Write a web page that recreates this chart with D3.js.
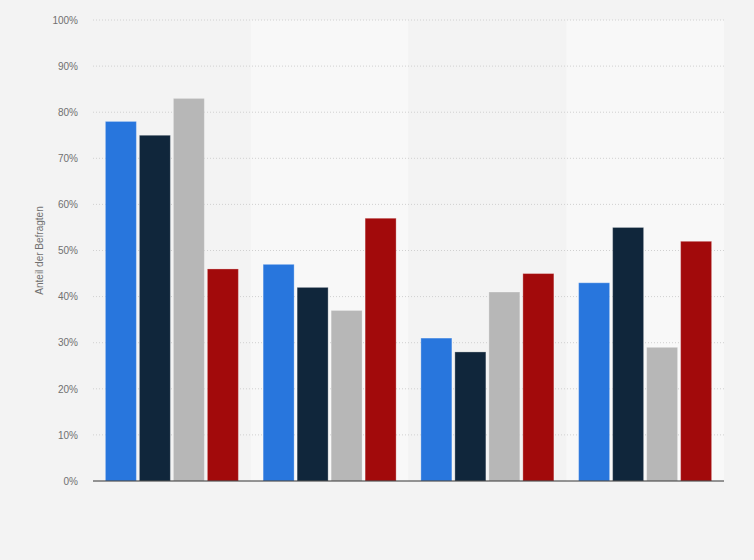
<!DOCTYPE html>
<html>
<head>
<meta charset="utf-8">
<script src="https://cdn.jsdelivr.net/npm/d3@7"></script>
<style>
  html, body { margin: 0; padding: 0; background: #f3f3f3; }
  svg { display: block; font-family: "Liberation Sans", Arial, sans-serif; }
</style>
</head>
<body>
<div id="chart"></div>
<script>
// groups have no visible labels in the reference
const categories = ["Gruppe 1", "Gruppe 2", "Gruppe 3", "Gruppe 4"];
const seriesNames = ["Reihe A", "Reihe B", "Reihe C", "Reihe D"];
const seriesColors = ["#2876dd", "#10263b", "#b7b7b7", "#a20a0b"];
// values per series, one entry per group (percent)
const seriesA = [78, 47, 31, 43];
const seriesB = [75, 42, 28, 55];
const seriesC = [83, 37, 41, 29];
const seriesD = [46, 57, 45, 52];
const yTicks = [0, 10, 20, 30, 40, 50, 60, 70, 80, 90, 100];

(() => {
  const W = 754, H = 560;
  const margin = { top: 20, left: 93, right: 30, bottom: 79 };
  const width = W - margin.left - margin.right,
        height = H - margin.top - margin.bottom;

  const allSeries = [seriesA, seriesB, seriesC, seriesD];
  const data = categories.map((c, i) => ({
    cat: c,
    vals: seriesNames.map((s, j) => ({ key: s, value: allSeries[j][i], color: seriesColors[j] }))
  }));

  const svg = d3.select("#chart").append("svg")
    .attr("width", W).attr("height", H);

  const g = svg.append("g")
    .attr("transform", `translate(${margin.left},${margin.top})`);

  const x0 = d3.scaleBand().domain(categories).range([0, width]);
  const x1 = d3.scaleBand().domain(seriesNames).range([0, x0.bandwidth()])
    .paddingInner(0.088).paddingOuter(0.364);
  const y = d3.scaleLinear().domain([0, 100]).range([height, 0]);

  // alternating column bands
  g.selectAll(".band")
    .data(categories)
    .enter().append("rect")
    .attr("x", d => x0(d))
    .attr("y", 0)
    .attr("width", x0.bandwidth())
    .attr("height", height)
    .attr("fill", (d, i) => i % 2 ? "#f8f8f8" : "#f3f3f3");

  // gridlines
  g.selectAll(".grid")
    .data(yTicks.filter(t => t > 0))
    .enter().append("line")
    .attr("x1", 0).attr("x2", width)
    .attr("y1", d => y(d)).attr("y2", d => y(d))
    .attr("stroke", "#d0d0d0")
    .attr("stroke-width", 1)
    .attr("stroke-dasharray", "1,2");

  // y axis labels
  const yAxis = g.append("g")
    .call(d3.axisLeft(y).tickValues(yTicks).tickFormat(d => d + "%").tickSize(0).tickPadding(15));
  yAxis.select(".domain").remove();
  yAxis.selectAll("text")
    .attr("fill", "#707070")
    .style("font-size", "10px");

  // bars
  const groups = g.selectAll(".group")
    .data(data)
    .enter().append("g")
    .attr("transform", d => `translate(${x0(d.cat)},0)`);

  groups.selectAll("rect")
    .data(d => d.vals)
    .enter().append("rect")
    .attr("x", d => x1(d.key))
    .attr("y", d => y(d.value))
    .attr("width", x1.bandwidth())
    .attr("height", d => height - y(d.value))
    .attr("fill", d => d.color)
    .attr("stroke", "#fff")
    .attr("stroke-opacity", 0.3)
    .attr("stroke-width", 1);

  // baseline
  g.append("line")
    .attr("x1", 0).attr("x2", width)
    .attr("y1", height).attr("y2", height)
    .attr("stroke", "#333")
    .attr("stroke-width", 1.2);

  // y axis title
  g.append("text")
    .attr("transform", "rotate(-90)")
    .attr("x", -height / 2)
    .attr("y", -50)
    .attr("text-anchor", "middle")
    .attr("fill", "#707070")
    .style("font-size", "10px")
    .text("Anteil der Befragten");
})();
</script>
</body>
</html>
